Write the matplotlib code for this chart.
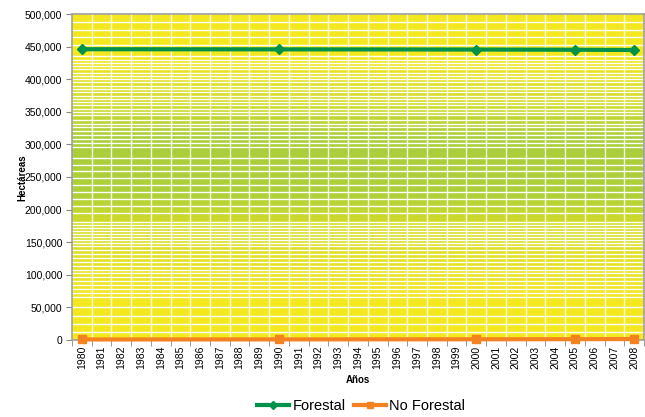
import numpy as np
import matplotlib
matplotlib.use('Agg')
import matplotlib.pyplot as plt
from matplotlib.colors import LinearSegmentedColormap
from matplotlib.ticker import FuncFormatter

plt.rcParams['font.family'] = ['Liberation Sans', 'DejaVu Sans']

years = [str(y) for y in range(1980, 2009)]
data_years = ['1980', '1990', '2000', '2005', '2008']
forestal = [446000, 445800, 445500, 445200, 444800]
no_forestal = [800, 900, 1100, 1200, 1500]

fig = plt.figure(figsize=(6.45, 4.17), dpi=100, facecolor='white')
ax = fig.add_axes([0.1116, 0.1847, 0.8868, 0.7817])

# gradient background (yellow - green - yellow)
cmap = LinearSegmentedColormap.from_list('bg', [
    (0.0, '#f5e81e'), (0.12, '#f5e81e'), (0.35, '#d4dc28'),
    (0.45, '#aed03a'), (0.62, '#aace3a'), (0.72, '#cfdb2a'),
    (0.88, '#f5e81e'), (1.0, '#f5e81e')])
grad = np.linspace(0, 1, 256).reshape(-1, 1)
ax.imshow(grad, extent=(-0.5, 28.5, 0, 500000), origin='lower', cmap=cmap,
          aspect='auto', zorder=0)

# white texture lines (decoration only)
segments = [(0, 60000, 12500), (60000, 140000, 6000), (140000, 185000, 4500),
            (185000, 290000, 10500), (290000, 340000, 6000),
            (340000, 440000, 5000), (440000, 500000, 12000)]
for lo, hi, step in segments:
    for yv in np.arange(lo + step, hi, step):
        ax.axhline(yv, color='white', lw=1.0, zorder=1)
for i in range(1, 29):
    ax.axvline(i - 0.5, color='white', lw=1.0, alpha=0.9, zorder=1)

xi = [years.index(y) for y in data_years]
ax.plot(xi, forestal, color='#00914a', lw=3, marker='D', ms=5,
        label='Forestal', zorder=3, clip_on=False)
ax.plot(xi, no_forestal, color='#f58220', lw=3, marker='s', ms=5.5,
        label='No Forestal', zorder=3, clip_on=False)

ax.set_xlim(-0.5, 28.5)
ax.set_ylim(0, 500000)
ax.set_yticks(np.arange(0, 500001, 50000))
ax.yaxis.set_major_formatter(FuncFormatter(lambda v, p: f'{int(v):,}'))
ax.set_xticks(range(29))
ax.set_xticklabels(years, rotation=90, fontsize=7.5)
ax.set_xticks(np.arange(-0.5, 29, 1), minor=True)
ax.tick_params(axis='x', which='major', length=0, pad=4)
ax.tick_params(axis='x', which='minor', length=4, color='#888888')
ax.tick_params(axis='y', length=4, color='#888888', labelsize=7.5, pad=3)

for s in ax.spines.values():
    s.set_color('#a0a0a0')
    s.set_linewidth(1.2)

ax.set_xlabel('Años', fontsize=7, fontweight='bold', labelpad=4)
fig.text(22 / 645, 0.575, 'Hectáreas', rotation=90, fontsize=7,
         fontweight='bold', ha='center', va='center')

fig.legend(loc='center', bbox_to_anchor=(0.56, 0.027), ncol=2, frameon=False,
           fontsize=10.5, handlelength=2.2, handletextpad=0.2, columnspacing=0.6,
           markerscale=0.8)

fig.savefig('out.png', dpi=100, facecolor='white')
